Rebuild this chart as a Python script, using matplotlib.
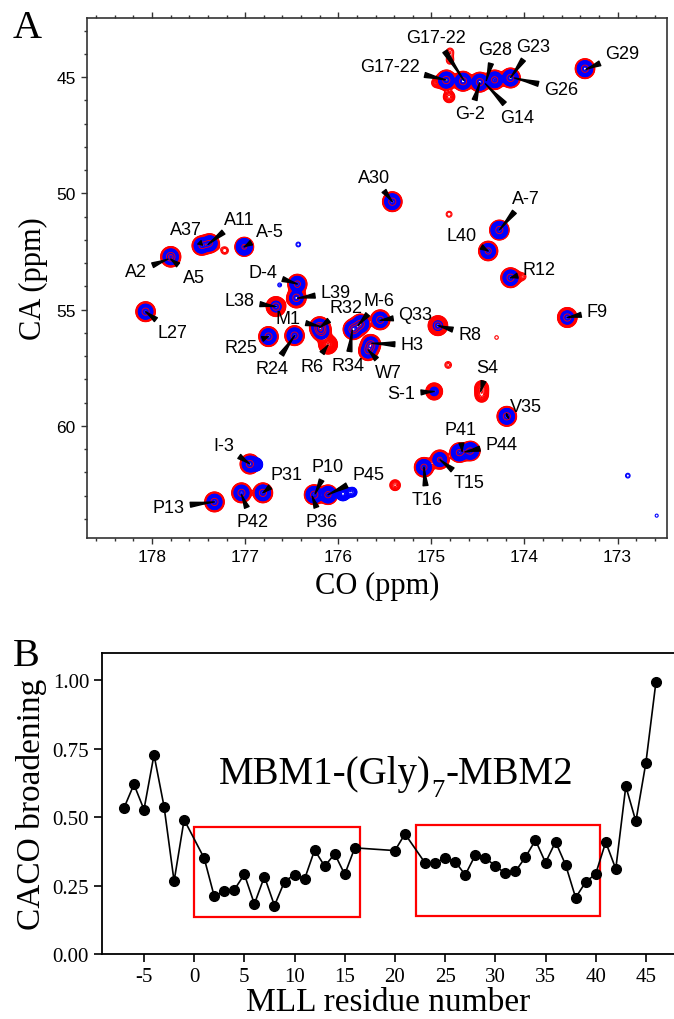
import numpy as np
import matplotlib
matplotlib.use("Agg")
import matplotlib.pyplot as plt
from matplotlib.patches import Rectangle
from matplotlib.ticker import MultipleLocator, FormatStrFormatter

plt.rcParams["axes.unicode_minus"] = False

SANS = "Liberation Sans"
SERIF = "Liberation Serif"

# ---- panel A: peak list (CO ppm, CA ppm, red intensity, blue intensity)
peak_co = [173.35, 174.84, 174.66, 174.48, 174.32, 174.15, 174.80, 174.80, 174.81, 174.95,
           175.42, 174.27, 174.39, 174.15, 174.02, 177.47, 177.38, 177.01, 177.80,
           176.44, 176.45, 176.67, 178.07, 176.20, 176.18, 176.11, 175.84, 175.76,
           175.55, 174.93, 173.54, 176.75, 176.47, 175.65, 175.68, 174.97, 174.46,
           174.46, 174.19, 174.70, 174.58, 174.91, 175.08, 176.95, 176.81, 177.04,
           177.33, 176.26, 176.11, 175.95, 175.85, 176.88,
           177.22, 176.43, 174.81, 176.63, 174.82, 174.30, 175.39, 172.89, 172.58]
peak_ca = [44.64, 45.13, 45.18, 45.22, 45.12, 45.04, 43.90, 44.30, 45.85, 45.25,
           50.36, 51.58, 52.48, 53.63, 53.58, 52.25, 52.15, 52.30, 52.73,
           53.90, 54.50, 54.87, 55.09, 55.75, 55.95, 56.50, 55.85, 55.62,
           55.44, 55.69, 55.34, 56.16, 56.12, 56.50, 56.78, 58.52, 58.35,
           58.70, 59.59, 61.15, 61.08, 61.45, 61.78, 61.64, 62.88, 62.88,
           63.27, 62.96, 62.96, 62.92, 62.85, 61.66,
           52.46, 52.20, 50.90, 53.94, 57.38, 56.20, 62.55, 62.14, 63.86]
red_amp = [1.0, 1.0, 1.0, 1.0, 0.9, 1.0, 0.07, 0.07, 0.14, 0.09,
           1.0, 1.0, 0.9, 1.0, 0.07, 0.8, 0.8, 0.8, 1.2,
           0.9, 1.0, 1.0, 1.0, 1.2, 0.8, 0.8, 1.2, 1.0,
           1.0, 1.0, 1.0, 1.0, 1.0, 1.0, 0.8, 0.45, 0.2,
           0.18, 1.0, 0.9, 0.9, 0.8, 0.9, 1.0, 1.0, 1.0,
           1.0, 1.0, 0.9, 0.0, 0.0, 0.0,
           0.075, 0.0, 0.065, 0.0, 0.07, 0.055, 0.12, 0.0, 0.0]
blue_amp = [1.0, 1.0, 1.0, 1.0, 0.9, 1.0, 0.0, 0.0, 0.0, 0.0,
            0.9, 1.6, 0.7, 0.8, 0.0, 0.7, 0.7, 1.2, 0.9,
            0.8, 0.5, 0.2, 0.7, 1.0, 0.6, 0.0, 1.5, 1.2,
            0.8, 0.15, 0.4, 0.9, 0.8, 0.7, 0.5, 0.12, 0.0,
            0.0, 0.9, 1.2, 1.2, 0.5, 0.8, 0.9, 0.9, 0.8,
            0.8, 1.2, 1.2, 0.5, 0.15, 0.35,
            0.0, 0.065, 0.0, 0.06, 0.0, 0.0, 0.0, 0.065, 0.056]

# assignments: label, where the leader ends (near the peak)
label_names = ["G17-22", "G17-22", "G28", "G23", "G29", "G26", "G-2", "G14",
               "A30", "A-7", "L40", "R12", "A37", "A11", "A-5", "A2", "A5",
               "D-4", "L39", "L38", "L27", "R32", "M-6", "M1", "Q33", "R8",
               "F9", "R25", "R24", "R6", "R34", "H3", "W7", "S-1", "S4",
               "V35", "P41", "P44", "T15", "T16", "I-3", "P31", "P42", "P13",
               "P10", "P45", "P36"]
label_co = [174.65, 174.84, 174.41, 174.15, 173.34, 174.11, 174.48, 174.42,
            175.42, 174.27, 174.39, 174.15, 177.46, 177.40, 177.01, 177.83, 177.80,
            176.44, 176.44, 176.67, 178.07, 176.20, 175.79, 176.20, 175.55, 174.93,
            173.54, 176.75, 176.47, 176.11, 175.85, 175.64, 175.68, 174.97, 174.47,
            174.19, 174.67, 174.64, 174.91, 175.08, 176.95, 176.81, 177.04, 177.33,
            176.25, 176.11, 176.28]
label_ca = [45.15, 45.13, 45.15, 45.03, 44.67, 45.04, 45.24, 45.29,
            50.36, 51.58, 52.48, 53.63, 52.23, 52.20, 52.30, 52.83, 52.83,
            53.90, 54.51, 54.87, 55.09, 55.77, 55.69, 55.72, 55.46, 55.69,
            55.34, 56.16, 56.12, 56.52, 55.88, 56.45, 56.73, 58.52, 58.52,
            59.59, 61.10, 61.12, 61.45, 61.78, 61.64, 62.88, 62.96, 63.27,
            62.93, 62.96, 63.03]
# text placement of each label (layout)
text_co = [174.95, 175.45, 174.32, 173.91, 172.95, 173.61, 174.58, 174.08,
           175.62, 173.99, 174.68, 173.84, 177.64, 177.06, 176.73, 178.17, 177.55,
           176.81, 176.03, 177.06, 177.78, 175.92, 175.56, 176.54, 175.17, 174.59,
           173.22, 177.05, 176.71, 176.28, 175.90, 175.21, 175.46, 175.32, 174.40,
           173.98, 174.69, 174.25, 174.60, 175.05, 177.23, 176.56, 176.92, 177.82,
           176.11, 175.68, 176.18]
text_ca = [43.31, 44.55, 43.82, 43.67, 44.00, 45.53, 46.58, 46.72,
           49.32, 50.22, 51.80, 53.27, 51.54, 51.11, 51.65, 53.37, 53.61,
           53.40, 54.27, 54.63, 55.99, 54.91, 54.63, 55.40, 55.23, 56.06,
           55.09, 56.62, 57.52, 57.45, 57.40, 56.52, 57.70, 58.62, 57.48,
           59.16, 60.14, 60.78, 62.45, 63.17, 60.84, 62.07, 64.10, 63.50,
           61.74, 62.10, 64.10]

# ---- panel B: CACO broadening per MLL residue
residues = [-7, -6, -5, -4, -3, -2, -1, 1, 2, 3, 4, 5, 6, 7, 8, 9, 10, 11, 12,
            13, 14, 15, 16, 20, 21, 23, 24, 25, 26, 27, 28, 29, 30, 31, 32, 33,
            34, 35, 36, 37, 38, 39, 40, 41, 42, 43, 44, 45, 46]
broadening = [0.533, 0.620, 0.528, 0.728, 0.539, 0.266, 0.491, 0.350, 0.211,
              0.229, 0.235, 0.291, 0.183, 0.283, 0.177, 0.265, 0.290, 0.274,
              0.380, 0.321, 0.366, 0.291, 0.388, 0.378, 0.439, 0.333, 0.333,
              0.351, 0.338, 0.289, 0.361, 0.351, 0.322, 0.295, 0.302, 0.354,
              0.416, 0.334, 0.410, 0.326, 0.206, 0.263, 0.293, 0.409, 0.311,
              0.613, 0.485, 0.699, 0.994]
box_start = [0.0, 22.1]
box_end = [16.55, 40.45]
box_low = [0.134, 0.140]
box_high = [0.463, 0.470]

fig = plt.figure(figsize=(6.74, 10.2), dpi=100)

# ================= panel A =================
axA = fig.add_axes([0.129, 0.4716, 0.8605, 0.5098])

co = np.linspace(172.3, 178.9, 1700)
ca = np.linspace(42.3, 65.0, 1200)
pco = np.array(peak_co)[:, None]
pca = np.array(peak_ca)[:, None]


def spectrum(amp, sx, sy):
    gx = np.exp(-(co[None, :] - pco) ** 2 / (2 * sx ** 2))
    gy = np.exp(-(ca[None, :] - pca) ** 2 / (2 * sy ** 2))
    return (gy * np.array(amp)[:, None]).T @ gx


z_red = spectrum(red_amp, 0.043, 0.175)
z_blue = spectrum(blue_amp, 0.034, 0.14)
levels = np.geomspace(0.05, 2.0, 28)
axA.contour(co, ca, z_red, levels=levels, colors="red", linewidths=0.8)
axA.contour(co, ca, z_blue, levels=levels, colors="blue", linewidths=0.8)
axA.contour(co, ca, z_red, levels=levels[-9::3], colors="red", linewidths=0.6)

for name, xc, yc, tx, ty in zip(label_names, label_co, label_ca, text_co, text_ca):
    axA.annotate(name, xy=(xc, yc), xytext=(tx, ty), ha="center", va="center",
                 fontsize=13, family=SANS,
                 arrowprops=dict(arrowstyle="wedge,tail_width=0.27,shrink_factor=0.4",
                                 fc="black", ec="black", shrinkA=2, shrinkB=0))

axA.set_xlim(178.70, 172.47)
axA.set_ylim(64.82, 42.46)
axA.xaxis.set_major_locator(MultipleLocator(1))
axA.xaxis.set_minor_locator(MultipleLocator(0.2))
axA.yaxis.set_major_locator(MultipleLocator(5))
axA.yaxis.set_minor_locator(MultipleLocator(1))
axA.tick_params(which="both", direction="out", top=True, right=False,
                color="#333333", labelsize=12.5, width=1.0)
axA.tick_params(which="major", length=4.5)
axA.tick_params(which="minor", length=2.5)
for lab in axA.get_xticklabels() + axA.get_yticklabels():
    lab.set_family(SANS)
for sp in axA.spines.values():
    sp.set_color("#333333")
    sp.set_linewidth(1.2)
axA.set_xlabel("CO (ppm)", fontsize=22, family=SERIF, labelpad=5)
axA.set_ylabel("CA (ppm)", fontsize=22, family=SERIF, labelpad=6)

# ================= panel B =================
axB = fig.add_axes([0.1518, 0.0637, 0.8482, 0.2951])
axB.plot(residues, broadening, "-o", color="black", lw=1.2, ms=7)
for x0, x1, y0, y1 in zip(box_start, box_end, box_low, box_high):
    axB.add_patch(Rectangle((x0, y0), x1 - x0, y1 - y0, fill=False,
                            ec="red", lw=1.6))

# construct title with a deep subscript 7
t1 = axB.text(2.44, 0.592, "MBM1-(Gly)", ha="left", va="bottom",
              fontsize=28, family=SERIF)
t2 = axB.annotate("7", xy=(1, 0), xycoords=t1, xytext=(0.5, 1.5),
                  textcoords="offset points", ha="left", va="center",
                  fontsize=19, family=SERIF)
axB.annotate("-MBM2", xy=(1, 0), xycoords=(t2, t1), xytext=(0.5, 0),
             textcoords="offset points", ha="left", va="bottom",
             fontsize=28, family=SERIF)

axB.set_xlim(-9.15, 47.8)
axB.set_ylim(0, 1.1)
axB.xaxis.set_major_locator(MultipleLocator(5))
axB.yaxis.set_major_locator(MultipleLocator(0.25))
axB.yaxis.set_major_formatter(FormatStrFormatter("%.2f"))
axB.tick_params(direction="out", length=6, width=1.2, labelsize=15)
for lab in axB.get_xticklabels() + axB.get_yticklabels():
    lab.set_family(SERIF)
axB.spines["right"].set_visible(False)
for sp in axB.spines.values():
    sp.set_linewidth(1.3)
axB.set_xlabel("MLL residue number", fontsize=24, family=SERIF, labelpad=0)
axB.set_ylabel("CACO broadening", fontsize=24, family=SERIF, labelpad=4)

fig.text(0.040, 0.9725, "A", fontsize=29, family=SERIF, ha="center", va="center")
fig.text(0.0386, 0.356, "B", fontsize=29, family=SERIF, ha="center", va="center")

fig.savefig("out.png", dpi=100)
